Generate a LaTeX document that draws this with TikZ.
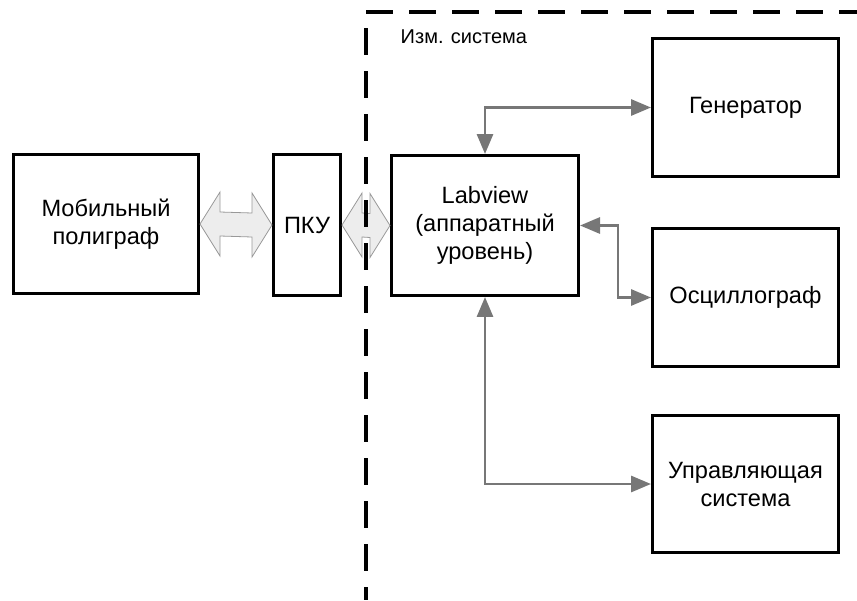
\documentclass[tikz,border=0pt]{standalone}
\usepackage{fontspec}
\setmainfont{Liberation Sans}
\usepackage{tikz}
\usetikzlibrary{arrows.meta,calc}
\definecolor{linkgray}{HTML}{777777}
\definecolor{busfill}{HTML}{EDEDED}

\begin{document}
\begin{tikzpicture}[x=0.75pt,y=-0.75pt,
  box/.style={draw, line width=2.5pt, align=center, inner sep=0pt,
    font=\fontsize{17.7}{21}\selectfont},
  link/.style={draw=linkgray, line width=2.2pt,
    {Triangle[length=15pt,width=12pt]}-{Triangle[length=15pt,width=12pt]}},
  bus/.style={draw=gray!80, fill=busfill, line width=0.6pt},
  frame/.style={line width=2.6pt, dash pattern=on 20.25pt off 12pt}]
\useasboundingbox (0,0) rectangle (857,600);
% blocks
\node[box, minimum width=138.5pt, minimum height=104pt] (poly) at (106,224) {Мобильный\\полиграф};
\node[box, minimum width=50pt, minimum height=105.5pt] (pku) at (307,225) {ПКУ};
\node[box, minimum width=140pt, minimum height=104.7pt] (labview) at (485,225.5) {Labview\\(аппаратный\\уровень)};
\node[box, minimum width=139.2pt, minimum height=103.2pt] (gen) at (745.5,107.5) {Генератор};
\node[box, minimum width=139.2pt, minimum height=103.2pt] (osc) at (745.5,297.5) {Осциллограф};
\node[box, minimum width=139.2pt, minimum height=103.2pt] (ctrl) at (745.5,484) {Управляющая\\система};
% wide arrows
\filldraw[bus] (poly.east) -- ++(20,-32) -- ++(0,20) -- ($(pku.west)+(-20,-12)$) -- ++(0,-20)
  -- (pku.west) -- ++(-20,32) -- ++(0,-20) -- ($(poly.east)+(20,12)$) -- ++(0,20) -- cycle;
\filldraw[bus] (pku.east) -- ++(20,-32) -- ++(0,20) -- ($(labview.west)+(-20,-12)$) -- ++(0,-20)
  -- (labview.west) -- ++(-20,32) -- ++(0,-20) -- ($(pku.east)+(20,12)$) -- ++(0,20) -- cycle;
% links
\draw[link] (labview.north) |- (gen.west);
\draw[link] (labview.east) -- ++(38,0) |- (osc.west);
\draw[link] (labview.south) |- (ctrl.west);
% system border
\draw[frame] (366,12) -- (857,12);
\draw[frame, dash phase=20.25pt] (366,12) -- (366,600);
\node[anchor=base west, font=\fontsize{15}{18}\selectfont] (sys) at (396,43) {Изм. система};
\end{tikzpicture}
\end{document}
